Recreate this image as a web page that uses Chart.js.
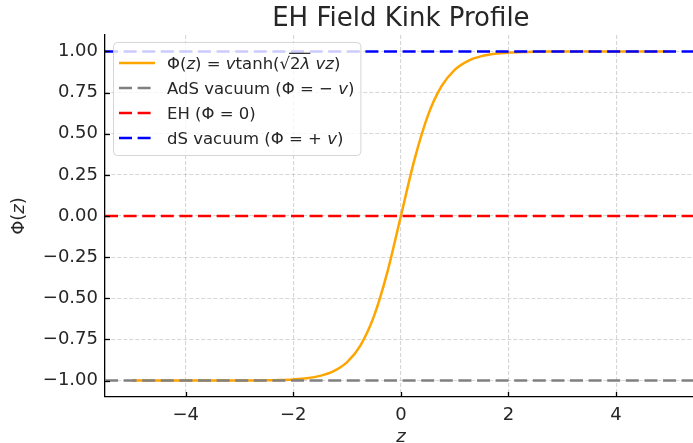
<!DOCTYPE html>
<html>
<head>
<meta charset="utf-8">
<script src="https://cdn.jsdelivr.net/npm/chart.js@4.4.1/dist/chart.umd.min.js"></script>
<style>
  html, body { margin: 0; padding: 0; background: #fff; }
  canvas { display: block; }
</style>
</head>
<body>
<canvas id="kinkChart" width="693" height="443"></canvas>
<script>
// z samples and the kink profile
const zValues = [
  -5, -4.75, -4.5, -4.25, -4, -3.75, -3.5, -3.25, -3, -2.75, -2.5, -2.25, -2, -1.75, -1.5, -1.25, -1, -0.75, -0.5, -0.25,
  0, 0.25, 0.5, 0.75, 1, 1.25, 1.5, 1.75, 2, 2.25, 2.5, 2.75, 3, 3.25, 3.5, 3.75, 4, 4.25, 4.5, 4.75, 5
];
const phiValues = [
  -1, -1, -1, -1, -1, -1, -0.9999, -0.9998, -0.9996, -0.9992, -0.9983, -0.9966, -0.993, -0.986, -0.9716, -0.9434, -0.8884, -0.7858, -0.6089, -0.3396,
  0, 0.3396, 0.6089, 0.7858, 0.8884, 0.9434, 0.9716, 0.986, 0.993, 0.9966, 0.9983, 0.9992, 0.9996, 0.9998, 0.9999, 1, 1, 1, 1, 1, 1
];

// horizontal reference levels
const adsLevel = -1;
const ehLevel = 0;
const dsLevel = 1;

// tick labels
const xTicks = [-4, -2, 0, 2, 4];
const yTicks = [-1, -0.75, -0.5, -0.25, 0, 0.25, 0.5, 0.75, 1];

// axis range
const xMin = -5.5, xMax = 5.43;
const yMin = -1.1, yMax = 1.1;

const FONT = "'DejaVu Sans', 'Noto Sans', sans-serif";
const TEXT = '#262626';
const DASH = [13, 5.6];

const minus = s => String(s).replace('-', '\u2212');
const levelLine = v => [{ x: xMin, y: v }, { x: xMax, y: v }];

// legend entries: text runs, italic flag, overline flag
const legendItems = [
  { color: '#ffa500', dash: [], runs: [
    ['\u03a6(', 0], ['z', 1], [') = ', 0], ['v', 1], ['tanh(', 0], ['\u221a', 0],
    ['2', 0, 1], ['\u03bb', 1, 1], [' ', 0], ['vz', 1], [')', 0]] },
  { color: '#808080', dash: DASH, runs: [['AdS vacuum (\u03a6 = \u2212 ', 0], ['v', 1], [')', 0]] },
  { color: '#ff0000', dash: DASH, runs: [['EH (\u03a6 = 0)', 0]] },
  { color: '#0000ff', dash: DASH, runs: [['dS vacuum (\u03a6 = + ', 0], ['v', 1], [')', 0]] },
];

function drawRuns(ctx, runs, x, y, size) {
  let cx = x;
  let overStart = null, overEnd = null;
  runs.forEach(([t, it, over]) => {
    ctx.font = (it ? 'italic ' : '') + size + 'px ' + FONT;
    const w = ctx.measureText(t).width;
    ctx.fillText(t, cx, y);
    if (over) {
      if (overStart === null) overStart = cx - 1;
      overEnd = cx + w;
    }
    cx += w;
  });
  if (overStart !== null) {
    ctx.save();
    ctx.strokeStyle = TEXT;
    ctx.lineWidth = 1.2;
    ctx.beginPath();
    ctx.moveTo(overStart, y - size * 0.95);
    ctx.lineTo(overEnd, y - size * 0.95);
    ctx.stroke();
    ctx.restore();
  }
  return cx - x;
}

function runsWidth(ctx, runs, size) {
  let w = 0;
  runs.forEach(([t, it]) => {
    ctx.font = (it ? 'italic ' : '') + size + 'px ' + FONT;
    w += ctx.measureText(t).width;
  });
  return w;
}

const decorPlugin = {
  id: 'decor',
  afterDraw(chart) {
    const { ctx, chartArea } = chart;
    const xs = chart.scales.x, ys = chart.scales.y;
    ctx.save();

    // inward tick marks
    ctx.strokeStyle = '#000';
    ctx.lineWidth = 1.3;
    xTicks.forEach(v => {
      const px = Math.round(xs.getPixelForValue(v)) + 0.5;
      ctx.beginPath();
      ctx.moveTo(px, chartArea.bottom);
      ctx.lineTo(px, chartArea.bottom - 5);
      ctx.stroke();
    });
    yTicks.forEach(v => {
      const py = Math.round(ys.getPixelForValue(v)) + 0.5;
      ctx.beginPath();
      ctx.moveTo(chartArea.left, py);
      ctx.lineTo(chartArea.left + 5, py);
      ctx.stroke();
    });

    // title
    const midX = (chartArea.left + xs.getPixelForValue(5.5)) / 2;
    ctx.fillStyle = TEXT;
    ctx.textAlign = 'center';
    ctx.textBaseline = 'alphabetic';
    ctx.font = '26px ' + FONT;
    ctx.fillText('EH Field Kink Profile', midX, 26);

    // x axis title
    ctx.font = 'italic 18px ' + FONT;
    ctx.fillText('z', midX, 442);

    // y axis title
    ctx.save();
    ctx.translate(24, (chartArea.top + chartArea.bottom) / 2);
    ctx.rotate(-Math.PI / 2);
    ctx.textAlign = 'left';
    const yRuns = [['\u03a6(', 0], ['z', 1], [')', 0]];
    const yw = runsWidth(ctx, yRuns, 18);
    drawRuns(ctx, yRuns, -yw / 2, 0, 18);
    ctx.restore();

    // legend
    const size = 16.5;
    const lx = chartArea.left + 8, ly = chartArea.top + 7;
    const rowH = 25;
    let maxW = 0;
    legendItems.forEach(item => { maxW = Math.max(maxW, runsWidth(ctx, item.runs, size)); });
    const boxW = 54 + maxW + 6, boxH = rowH * legendItems.length + 13;
    ctx.beginPath();
    ctx.roundRect(lx + 0.5, ly + 0.5, boxW, boxH, 4);
    ctx.fillStyle = 'rgba(255,255,255,0.8)';
    ctx.fill();
    ctx.strokeStyle = 'rgba(204,204,204,0.8)';
    ctx.lineWidth = 1;
    ctx.stroke();
    ctx.textAlign = 'left';
    legendItems.forEach((item, i) => {
      const cy = ly + 21 + i * rowH;
      ctx.strokeStyle = item.color;
      ctx.lineWidth = 2.5;
      ctx.setLineDash(item.dash);
      ctx.beginPath();
      ctx.moveTo(lx + 6, cy);
      ctx.lineTo(lx + 42, cy);
      ctx.stroke();
      ctx.setLineDash([]);
      ctx.fillStyle = TEXT;
      drawRuns(ctx, item.runs, lx + 54, cy + 6, size);
    });
    ctx.restore();
  }
};

const gridOpts = {
  color: 'rgba(176,176,176,0.5)',
  lineWidth: 1.1,
  drawTicks: false,
};

new Chart(document.getElementById('kinkChart').getContext('2d'), {
  type: 'scatter',
  data: {
    datasets: [
      {
        label: 'kink',
        data: zValues.map((z, i) => ({ x: z, y: phiValues[i] })),
        showLine: true,
        borderColor: '#ffa500',
        borderWidth: 2.5,
        pointRadius: 0,
        cubicInterpolationMode: 'monotone',
        order: 4,
      },
      {
        label: 'AdS vacuum',
        data: levelLine(adsLevel),
        showLine: true,
        borderColor: '#808080',
        borderWidth: 2.5,
        borderDash: DASH,
        pointRadius: 0,
        order: 3,
      },
      {
        label: 'EH',
        data: levelLine(ehLevel),
        showLine: true,
        borderColor: '#ff0000',
        borderWidth: 2.5,
        borderDash: DASH,
        pointRadius: 0,
        order: 2,
      },
      {
        label: 'dS vacuum',
        data: levelLine(dsLevel),
        showLine: true,
        borderColor: '#0000ff',
        borderWidth: 2.5,
        borderDash: DASH,
        pointRadius: 0,
        order: 1,
      },
    ]
  },
  options: {
    responsive: false,
    animation: false,
    devicePixelRatio: 1,
    layout: { autoPadding: false, padding: { top: 35, right: 0, left: 0, bottom: 0 } },
    plugins: {
      legend: { display: false },
      title: { display: false },
      tooltip: { enabled: false },
    },
    scales: {
      x: {
        type: 'linear',
        min: xMin,
        max: xMax,
        afterBuildTicks: scale => { scale.ticks = xTicks.map(v => ({ value: v })); },
        afterFit: scale => { scale.height = 46; },
        grid: gridOpts,
        border: { display: true, color: '#000', width: 1.3, dash: [4, 2] },
        ticks: {
          padding: 8,
          color: TEXT,
          font: { family: FONT, size: 18 },
          maxRotation: 0,
          callback: v => minus(v),
        },
      },
      y: {
        type: 'linear',
        min: yMin,
        max: yMax,
        afterBuildTicks: scale => { scale.ticks = yTicks.map(v => ({ value: v })); },
        afterFit: scale => { scale.width = 105; },
        grid: gridOpts,
        border: { display: true, color: '#000', width: 1.3, dash: [4, 2] },
        ticks: {
          padding: 7,
          color: TEXT,
          font: { family: FONT, size: 18 },
          callback: v => minus(v.toFixed(2)),
        },
      },
    },
  },
  plugins: [decorPlugin],
});
</script>
</body>
</html>
